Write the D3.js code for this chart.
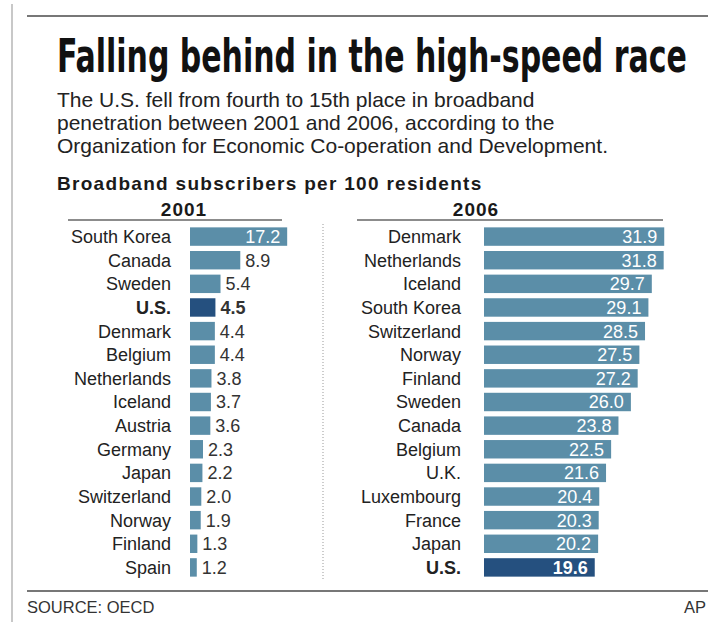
<!DOCTYPE html>
<html>
<head>
<meta charset="utf-8">
<script src="https://cdn.jsdelivr.net/npm/d3@7"></script>
<style>
  body { margin: 0; background: #fff; }
  text { font-family: "Liberation Sans", Arial, Helvetica, sans-serif; }
</style>
</head>
<body>
<div id="chart"></div>
<script>
const countries2001 = ["South Korea", "Canada", "Sweden", "U.S.", "Denmark", "Belgium", "Netherlands",
  "Iceland", "Austria", "Germany", "Japan", "Switzerland", "Norway", "Finland", "Spain"]
const values2001 = [17.2, 8.9, 5.4, 4.5, 4.4, 4.4, 3.8, 3.7, 3.6, 2.3, 2.2, 2.0, 1.9, 1.3, 1.2]

const countries2006 = ["Denmark", "Netherlands", "Iceland", "South Korea", "Switzerland", "Norway", "Finland",
  "Sweden", "Canada", "Belgium", "U.K.", "Luxembourg", "France", "Japan", "U.S."]
const values2006 = [31.9, 31.8, 29.7, 29.1, 28.5, 27.5, 27.2, 26.0, 23.8, 22.5, 21.6, 20.4, 20.3, 20.2, 19.6]

const title = "Falling behind in the high-speed race"
const subtitle = [
  "The U.S. fell from fourth to 15th place in broadband",
  "penetration between 2001 and 2006, according to the",
  "Organization for Economic Co-operation and Development."
]
const unitLabel = "Broadband subscribers per 100 residents"
const source = "SOURCE: OECD"
const credit = "AP"

const width = 715, height = 622
const barColor = "#5b8ea8", usColor = "#25507f"

const svg = d3.select("#chart").append("svg")
  .attr("width", width)
  .attr("height", height)

// frame rules
svg.append("line").attr("x1", 12).attr("x2", 12).attr("y1", 4).attr("y2", height)
  .style("stroke", "#c8c8c8").style("stroke-width", 2)
svg.append("line").attr("x1", 27).attr("x2", 708).attr("y1", 16).attr("y2", 16)
  .style("stroke", "#777").style("stroke-width", 2)
svg.append("line").attr("x1", 27).attr("x2", 708).attr("y1", 591).attr("y2", 591)
  .style("stroke", "#777").style("stroke-width", 2)

// headline - condensed bold, squeezed to span the same width as the original
const head = svg.append("text")
  .style("font-family", "'Liberation Sans Narrow', 'DejaVu Sans Condensed', 'Liberation Sans', sans-serif")
  .style("font-weight", "bold")
  .style("font-size", "46px")
  .style("fill", "#111")
  .text(title)
const headW = head.node().getComputedTextLength()
head.attr("transform", `translate(57,72) scale(${630 / headW},1)`)

svg.selectAll("text.sub")
  .data(subtitle)
  .enter()
  .append("text")
  .attr("class", "sub")
  .attr("x", 57)
  .attr("y", (d, i) => 107 + i * 23)
  .style("font-size", "21px")
  .style("fill", "#222")
  .text(d => d)

svg.append("text")
  .attr("x", 57).attr("y", 190)
  .style("font-size", "19px").style("font-weight", "bold").style("fill", "#1a1a1a")
  .style("letter-spacing", "1.3px")
  .text(unitLabel)

// shared value scale so both panels are comparable
const x = d3.scaleLinear().domain([0, 32]).range([0, 180.8])
const y = d3.scaleBand().domain(d3.range(15)).range([225, 579]).paddingInner(0.22).paddingOuter(0.1)

function panel(names, vals, opt) {
  const g = svg.append("g")

  g.append("text")
    .attr("x", opt.yearX).attr("y", 216)
    .attr("text-anchor", "middle")
    .style("font-size", "19px").style("font-weight", "bold").style("fill", "#1a1a1a")
    .style("letter-spacing", "1px")
    .text(opt.year)

  g.append("line")
    .attr("x1", opt.ruleX1).attr("x2", opt.ruleX2).attr("y1", 220).attr("y2", 220)
    .style("stroke", "#666").style("stroke-width", 1.5)

  const rows = g.selectAll("g.row")
    .data(vals)
    .enter()
    .append("g")
    .attr("transform", (d, i) => `translate(0,${y(i)})`)

  rows.append("rect")
    .attr("x", opt.barX)
    .attr("width", d => x(d))
    .attr("height", y.bandwidth())
    .style("fill", (d, i) => names[i] === "U.S." ? usColor : barColor)

  rows.append("text")
    .attr("x", opt.labelX)
    .attr("y", y.bandwidth() / 2)
    .attr("dy", "0.36em")
    .attr("text-anchor", "end")
    .style("font-size", "18px")
    .style("font-weight", (d, i) => names[i] === "U.S." ? "bold" : "normal")
    .style("fill", "#222")
    .text((d, i) => names[i])

  rows.append("text")
    .attr("x", d => x(d) > 60 ? opt.barX + x(d) - 7 : opt.barX + x(d) + 5)
    .attr("y", y.bandwidth() / 2)
    .attr("dy", "0.36em")
    .attr("text-anchor", d => x(d) > 60 ? "end" : "start")
    .style("font-size", "18px")
    .style("font-weight", (d, i) => names[i] === "U.S." ? "bold" : "normal")
    .style("fill", d => x(d) > 60 ? "#fff" : "#333")
    .text(d => d.toFixed(1))
}

panel(countries2001, values2001, {year: "2001", yearX: 184, ruleX1: 68, ruleX2: 282, barX: 190, labelX: 171})
panel(countries2006, values2006, {year: "2006", yearX: 476, ruleX1: 357, ruleX2: 663, barX: 484, labelX: 461})

// dotted divider between panels
svg.append("line")
  .attr("x1", 323).attr("x2", 323).attr("y1", 224).attr("y2", 580)
  .style("stroke", "#999").style("stroke-width", 1).style("stroke-dasharray", "1,2")

svg.append("text")
  .attr("x", 27).attr("y", 613)
  .style("font-size", "16.5px").style("fill", "#333")
  .text(source)
svg.append("text")
  .attr("x", 706).attr("y", 613)
  .attr("text-anchor", "end")
  .style("font-size", "16.5px").style("fill", "#333")
  .text(credit)
</script>
</body>
</html>
